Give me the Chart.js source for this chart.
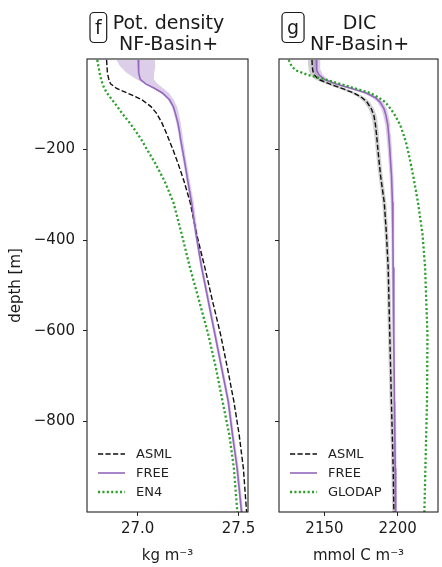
<!DOCTYPE html>
<html>
<head>
<meta charset="utf-8">
<script src="https://cdn.jsdelivr.net/npm/chart.js@4.4.0/dist/chart.umd.min.js"></script>
<style>
  html, body { margin: 0; padding: 0; background: #fff; }
  #wrap { position: relative; width: 442px; height: 567px; }
  .panel { position: absolute; top: 0; }
  #panelF { left: 0; }
  #panelG { left: 262px; }
</style>
</head>
<body>
<div id="wrap">
  <div class="panel" id="panelF"><canvas id="chartF" width="262" height="567"></canvas></div>
  <div class="panel" id="panelG"><canvas id="chartG" width="180" height="567"></canvas></div>
</div>
<script>
// depth levels (m) shared by the curves of each panel
const depthF = [-2, -15, -30, -45, -55, -65, -75, -90, -105, -120, -140, -160, -180, -200, -230, -270, -316, -386, -460, -534, -608, -682, -756, -829, -903, -1000];

// potential density (kg m-3)
const asmlF   = [26.846, 26.848, 26.850, 26.857, 26.866, 26.896, 26.949, 27.021, 27.066, 27.094, 27.119, 27.139, 27.157, 27.175, 27.200, 27.230, 27.260, 27.292, 27.333, 27.371, 27.411, 27.445, 27.477, 27.503, 27.524, 27.540];
const freeF   = [27.003, 27.004, 27.006, 27.013, 27.040, 27.085, 27.123, 27.158, 27.177, 27.187, 27.199, 27.207, 27.214, 27.222, 27.234, 27.249, 27.267, 27.289, 27.317, 27.350, 27.383, 27.416, 27.449, 27.470, 27.493, 27.515];
const freeLoF = [26.896, 26.911, 26.943, 26.996, 27.037, 27.077, 27.115, 27.150, 27.168, 27.179, 27.191, 27.200, 27.207, 27.215, 27.227, 27.242, 27.260, 27.283, 27.311, 27.344, 27.377, 27.410, 27.443, 27.464, 27.487, 27.509];
const freeHiF = [27.085, 27.088, 27.082, 27.080, 27.100, 27.128, 27.155, 27.179, 27.195, 27.204, 27.213, 27.220, 27.226, 27.233, 27.244, 27.259, 27.278, 27.298, 27.325, 27.358, 27.391, 27.424, 27.457, 27.478, 27.501, 27.523];
const en4F    = [26.800, 26.805, 26.811, 26.819, 26.826, 26.835, 26.848, 26.873, 26.899, 26.923, 26.959, 26.992, 27.021, 27.047, 27.087, 27.134, 27.177, 27.218, 27.259, 27.305, 27.350, 27.388, 27.421, 27.454, 27.477, 27.494];

const depthG = [-2, -15, -25, -35, -45, -55, -65, -75, -85, -95, -110, -125, -145, -165, -190, -220, -260, -316, -386, -460, -608, -756, -903, -1000];

// DIC (mmol C m-3)
const asmlG   = [2141.5, 2141.7, 2142.0, 2143.0, 2146.0, 2153.5, 2162.0, 2170.0, 2175.5, 2179.0, 2182.0, 2183.8, 2184.8, 2185.5, 2186.2, 2187.1, 2188.4, 2190.8, 2192.3, 2193.5, 2194.6, 2195.7, 2196.9, 2197.4];
const asmlLoG = [2138.7, 2138.9, 2139.3, 2140.4, 2143.5, 2151.1, 2159.7, 2167.8, 2173.4, 2177.0, 2180.1, 2182.0, 2183.1, 2183.9, 2184.7, 2185.6, 2187.0, 2189.4, 2191.0, 2192.2, 2193.3, 2194.5, 2195.7, 2196.2];
const asmlHiG = [2144.3, 2144.5, 2144.7, 2145.6, 2148.5, 2155.9, 2164.3, 2172.2, 2177.6, 2181.0, 2183.9, 2185.6, 2186.5, 2187.1, 2187.7, 2188.6, 2189.8, 2192.2, 2193.6, 2194.8, 2195.9, 2196.9, 2198.1, 2198.6];
const freeG   = [2144.5, 2144.6, 2144.9, 2146.3, 2150.0, 2158.0, 2168.5, 2178.5, 2184.5, 2188.0, 2190.7, 2192.0, 2193.2, 2193.8, 2194.4, 2195.0, 2195.8, 2196.4, 2196.7, 2196.9, 2197.3, 2197.8, 2198.3, 2198.6];
const freeLoG = [2141.9, 2142.0, 2142.3, 2143.8, 2147.5, 2155.6, 2166.2, 2176.3, 2182.4, 2186.0, 2188.8, 2190.2, 2191.5, 2192.2, 2192.9, 2193.6, 2194.5, 2195.2, 2195.6, 2195.8, 2196.3, 2196.8, 2197.3, 2197.6];
const freeHiG = [2147.1, 2147.2, 2147.5, 2148.8, 2152.5, 2160.4, 2170.8, 2180.7, 2186.6, 2190.0, 2192.6, 2193.8, 2194.9, 2195.4, 2195.9, 2196.4, 2197.1, 2197.6, 2197.8, 2198.0, 2198.3, 2198.8, 2199.3, 2199.6];
const glodapG = [2125.6, 2127.5, 2130.5, 2138.5, 2150.5, 2160.8, 2171.0, 2181.3, 2187.0, 2191.5, 2195.2, 2198.3, 2201.6, 2203.8, 2206.2, 2208.2, 2210.7, 2213.8, 2216.9, 2218.7, 2220.3, 2220.0, 2218.9, 2218.2];

// tick labels
const yTicks = [-800, -600, -400, -200];
const xTicksF = [27.0, 27.5];
const xTicksG = [2150, 2200];

const FONT = "'DejaVu Sans', sans-serif";
const INK = "#1a1a1a";

const asmlStyle = { color: "#111111", width: 1.4, dash: [5.2, 2.3], cap: "butt" };
const freeStyle = { color: "#9467bd", width: 1.6, dash: [], cap: "butt" };
const obsStyle  = { color: "#2ca02c", width: 2.3, dash: [2.1, 2.3], cap: "butt" };

function profile(depth, vals) {
    return depth.map((d, i) => ({ x: vals[i], y: d }));
}

// closed polygon: down the low side, back up the high side
function band(depth, lo, hi) {
    const pts = depth.map((d, i) => ({ x: lo[i], y: d }));
    for (let i = depth.length - 1; i >= 0; i--) pts.push({ x: hi[i], y: depth[i] });
    return pts;
}

function lineSet(label, data, st, order) {
    return {
        label, data, order,
        borderColor: st.color,
        borderWidth: st.width,
        borderDash: st.dash,
        borderCapStyle: st.cap,
        pointRadius: 0,
        fill: false,
        tension: 0
    };
}

function bandSet(data, color, order) {
    return {
        label: "band", data, order,
        borderWidth: 0,
        backgroundColor: color,
        pointRadius: 0,
        fill: "shape",
        tension: 0
    };
}

// frame round the plot area
const frame = {
    id: "frame",
    afterDraw(chart) {
        const { ctx, chartArea: a } = chart;
        ctx.save();
        ctx.strokeStyle = "#222";
        ctx.lineWidth = 1.1;
        ctx.strokeRect(a.left, a.top, a.right - a.left, a.bottom - a.top);
        ctx.restore();
    }
};

// legend in the lower left corner of the plot
const profileLegend = {
    id: "profileLegend",
    afterDraw(chart, args, opts) {
        const { ctx, chartArea: a } = chart;
        ctx.save();
        opts.items.forEach((item, i) => {
            const y = a.bottom - 58 + i * 19;
            const x0 = a.left + 11;
            ctx.beginPath();
            ctx.setLineDash(item.style.dash);
            ctx.lineCap = item.style.cap;
            ctx.lineWidth = item.style.width;
            ctx.strokeStyle = item.style.color;
            ctx.moveTo(x0, y);
            ctx.lineTo(x0 + 27, y);
            ctx.stroke();
            ctx.setLineDash([]);
            ctx.fillStyle = "#222";
            ctx.font = "13px " + FONT;
            ctx.textAlign = "left";
            ctx.textBaseline = "middle";
            ctx.fillText(item.label, x0 + 38, y + 0.5);
        });
        ctx.restore();
    }
};

// boxed panel letter and two line title
const panelTitle = {
    id: "panelTitle",
    afterDraw(chart, args, opts) {
        const { ctx, chartArea: a } = chart;
        const cx = (a.left + a.right) / 2;
        ctx.save();
        ctx.font = "19px " + FONT;
        ctx.fillStyle = INK;
        ctx.textAlign = "center";
        ctx.textBaseline = "alphabetic";
        ctx.fillText(opts.lines[0], cx + 1, 28.5);
        ctx.fillText(opts.lines[1], cx + 1, 50);

        const w = ctx.measureText(opts.letter).width + 10;
        const bx = a.left + 3, by = 12.5, bh = 30, r = 4;
        ctx.beginPath();
        ctx.roundRect(bx, by, w, bh, r);
        ctx.strokeStyle = INK;
        ctx.lineWidth = 1.2;
        ctx.stroke();
        ctx.fillText(opts.letter, bx + w / 2, 33.5);
        ctx.restore();
    }
};

function makeChart(id, cfg) {
    const ctx = document.getElementById(id).getContext("2d");
    return new Chart(ctx, {
        type: "line",
        data: { datasets: cfg.datasets },
        options: {
            responsive: false,
            animation: false,
            events: [],
            layout: { padding: { top: 59, right: cfg.padRight, bottom: 0, left: 0 } },
            plugins: {
                legend: { display: false },
                tooltip: { enabled: false },
                profileLegend: { items: cfg.legend },
                panelTitle: { letter: cfg.letter, lines: cfg.title }
            },
            scales: {
                x: {
                    type: "linear",
                    min: cfg.xMin,
                    max: cfg.xMax,
                    afterBuildTicks: (axis) => { axis.ticks = cfg.xTicks.map(v => ({ value: v })); },
                    afterFit: (axis) => { axis.height = 55; },
                    grid: { drawOnChartArea: false, drawTicks: true, tickLength: 4, color: "#222" },
                    border: { display: false },
                    ticks: {
                        color: INK,
                        font: { family: FONT, size: 15 },
                        padding: 4,
                        maxRotation: 0,
                        callback: cfg.xFormat
                    },
                    title: {
                        display: true,
                        text: cfg.xTitle,
                        color: INK,
                        font: { family: FONT, size: 15 },
                        padding: { top: 0, bottom: 2 }
                    }
                },
                y: {
                    type: "linear",
                    min: -1000,
                    max: 0,
                    afterBuildTicks: (axis) => { axis.ticks = yTicks.map(v => ({ value: v })); },
                    afterFit: (axis) => { axis.width = cfg.yWidth; },
                    grid: { drawOnChartArea: false, drawTicks: true, tickLength: 4, color: "#222" },
                    border: { display: false },
                    ticks: {
                        display: cfg.yLabels,
                        color: INK,
                        font: { family: FONT, size: 15 },
                        padding: 8,
                        callback: (v) => (v < 0 ? "\u2212" + Math.abs(v) : String(v))
                    },
                    title: {
                        display: cfg.yLabels,
                        text: "depth [m]",
                        color: INK,
                        font: { family: FONT, size: 15 },
                        padding: { top: 7, bottom: 0 }
                    }
                }
            }
        },
        plugins: [frame, profileLegend, panelTitle]
    });
}

const freeBand = "rgba(148, 103, 189, 0.33)";
const asmlBand = "rgba(90, 90, 90, 0.28)";

makeChart("chartF", {
    datasets: [
        lineSet("EN4", profile(depthF, en4F), obsStyle, 1),
        lineSet("FREE", profile(depthF, freeF), freeStyle, 2),
        lineSet("ASML", profile(depthF, asmlF), asmlStyle, 3),
        bandSet(band(depthF, freeLoF, freeHiF), freeBand, 4)
    ],
    legend: [
        { label: "ASML", style: asmlStyle },
        { label: "FREE", style: freeStyle },
        { label: "EN4", style: obsStyle }
    ],
    letter: "f",
    title: ["Pot. density", "NF-Basin+"],
    xMin: 26.749, xMax: 27.547,
    xTicks: xTicksF,
    xFormat: (v) => v.toFixed(1),
    xTitle: "kg m\u207B\u00B3",
    yWidth: 87,
    yLabels: true,
    padRight: 14
});

makeChart("chartG", {
    datasets: [
        lineSet("GLODAP", profile(depthG, glodapG), obsStyle, 1),
        lineSet("FREE", profile(depthG, freeG), freeStyle, 2),
        lineSet("ASML", profile(depthG, asmlG), asmlStyle, 3),
        bandSet(band(depthG, freeLoG, freeHiG), freeBand, 4),
        bandSet(band(depthG, asmlLoG, asmlHiG), asmlBand, 5)
    ],
    legend: [
        { label: "ASML", style: asmlStyle },
        { label: "FREE", style: freeStyle },
        { label: "GLODAP", style: obsStyle }
    ],
    letter: "g",
    title: ["DIC", "NF-Basin+"],
    xMin: 2119, xMax: 2227.5,
    xTicks: xTicksG,
    xFormat: (v) => String(v),
    xTitle: "mmol C m\u207B\u00B3",
    yWidth: 17,
    yLabels: false,
    padRight: 4
});
</script>
</body>
</html>
